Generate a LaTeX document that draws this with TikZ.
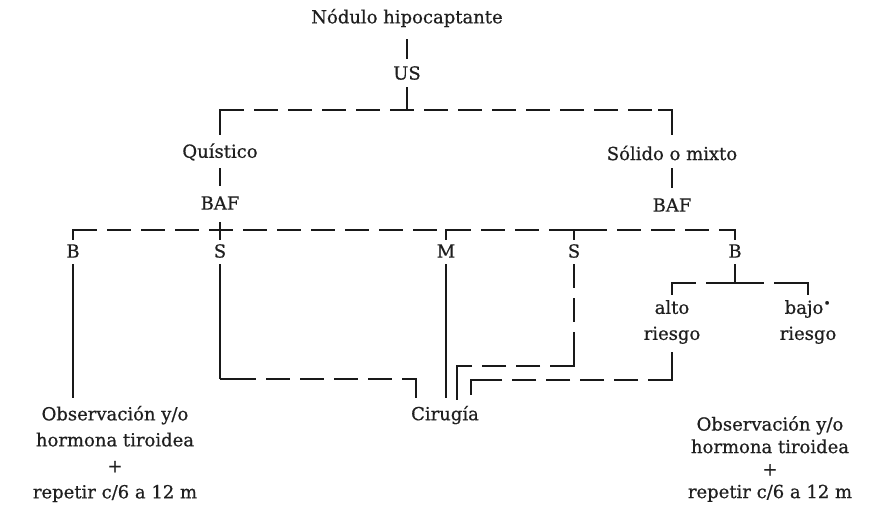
\documentclass[tikz,border=0pt]{standalone}
\usepackage{fontspec}
\setmainfont{DejaVu Serif}[FakeBold=0.6]
\begin{document}
\begin{tikzpicture}[x=1pt,y=-1pt,
  lbl/.style={inner sep=0pt,align=center,text=black!88,font=\fontsize{18}{26}\selectfont},
  thinln/.style={line width=1.3pt,black!90},
  dashln/.style={line width=2.2pt,black!90,dash pattern=on 24pt off 10pt},
  corner/.style={line width=2.2pt,black!90,line cap=butt}]
\useasboundingbox (0,0) rectangle (869,506);

% labels
\node[lbl] (nod) at (407,18) {Nódulo hipocaptante};
\node[lbl] (us) at (407,73) {US};
\node[lbl] (qui) at (220,152) {Quístico};
\node[lbl] (baf1) at (220,203) {BAF};
\node[lbl] (sol) at (672,153) {Sólido o mixto};
\node[lbl] (baf2) at (672,205) {BAF};
\node[lbl] (b1) at (73,251) {B};
\node[lbl] (s1) at (220,251) {S};
\node[lbl] (m) at (446,251) {M};
\node[lbl] (s2) at (574,251) {S};
\node[lbl] (b2) at (735,251) {B};
\node[lbl] (alto) at (672,322) {alto\\riesgo};
\node[lbl] (bajo) at (808,322) {bajo\textsuperscript{•}\\riesgo};
\node[lbl] (cir) at (445,415) {Cirugía};
\node[lbl] (obs1) at (115,454) {Observación y/o\\hormona tiroidea\\+\\repetir c/6 a 12 m};
\node[lbl,font=\fontsize{18}{22.5}\selectfont] (obs2) at (770,459) {Observación y/o\\hormona tiroidea\\+\\repetir c/6 a 12 m};

% junction points
\coordinate (t1) at (407,110);
\coordinate (t2) at (220,230);
\coordinate (j1) at (416,379);
\coordinate (j2) at (457,366);
\coordinate (j3) at (735,283);
\coordinate (j4) at (471,380);

% first split
\draw[thinln] (nod) ++(0,21) -- ++(0,20);
\draw[thinln] (us) ++(0,14) -- (t1);
\draw[dashln] (qui |- t1) -- (sol |- t1);
\draw[corner] (qui |- t1) ++(14,0) -- (qui |- t1) -- ++(0,25);
\draw[corner] (sol |- t1) ++(-14,0) -- (sol |- t1) -- ++(0,25);

\draw[thinln] (qui) ++(0,16) -- ++(0,18);
\draw[thinln] (sol) ++(0,15) -- ++(0,20);

% second split
\draw[dashln] (b1 |- t2) -- (b2 |- t2);
\draw[corner] (b1 |- t2) ++(14,0) -- (b1 |- t2) -- ++(0,10);
\draw[corner] (b2 |- t2) ++(-14,0) -- (b2 |- t2) -- ++(0,10);
\draw[corner] (m |- t2) ++(14,0) -- (m |- t2) -- ++(0,10);
\draw[corner] (s2 |- t2) ++(-10,0) -- ++(20,0);
\draw[corner] (s2 |- t2) -- ++(0,10);
\draw[corner] (t2) ++(0,-8) -- ++(0,18);

% branches to the outcomes
\draw[thinln] (b1) ++(0,13) -- (73,398);
\draw[thinln] (m) ++(0,13) -- (446,398);
\draw[thinln] (s1) ++(0,13) -- (s1 |- j1);
\draw[dashln] (s1 |- j1) ++(12,0) -- (j1);
\draw[corner] (s1 |- j1) -- ++(14,0);
\draw[corner] (j1) ++(-12,0) -- (j1) -- ++(0,19);

\draw[dashln,dash phase=0pt] (s2) ++(0,13) -- (s2 |- j2) -- (j2);
\draw[corner] (s2 |- j2) ++(0,-10) -- (s2 |- j2) -- ++(-12,0);
\draw[corner] (j2) ++(12,0) -- (j2) -- ++(0,34);

\draw[thinln] (b2) ++(0,13) -- (j3);
\draw[dashln] (alto |- j3) -- (bajo |- j3);
\draw[corner] (alto |- j3) ++(14,0) -- (alto |- j3) -- ++(0,12);
\draw[corner] (bajo |- j3) ++(-14,0) -- (bajo |- j3) -- ++(0,12);
\draw[corner] (j3) ++(-8,0) -- ++(16,0);

\draw[thinln] (alto) ++(0,30) -- (alto |- j4);
\draw[dashln] (alto |- j4) -- (j4);
\draw[corner] (alto |- j4) ++(0,-8) -- (alto |- j4) -- ++(-12,0);
\draw[corner] (j4) ++(12,0) -- (j4) -- ++(0,15);
\end{tikzpicture}
\end{document}
